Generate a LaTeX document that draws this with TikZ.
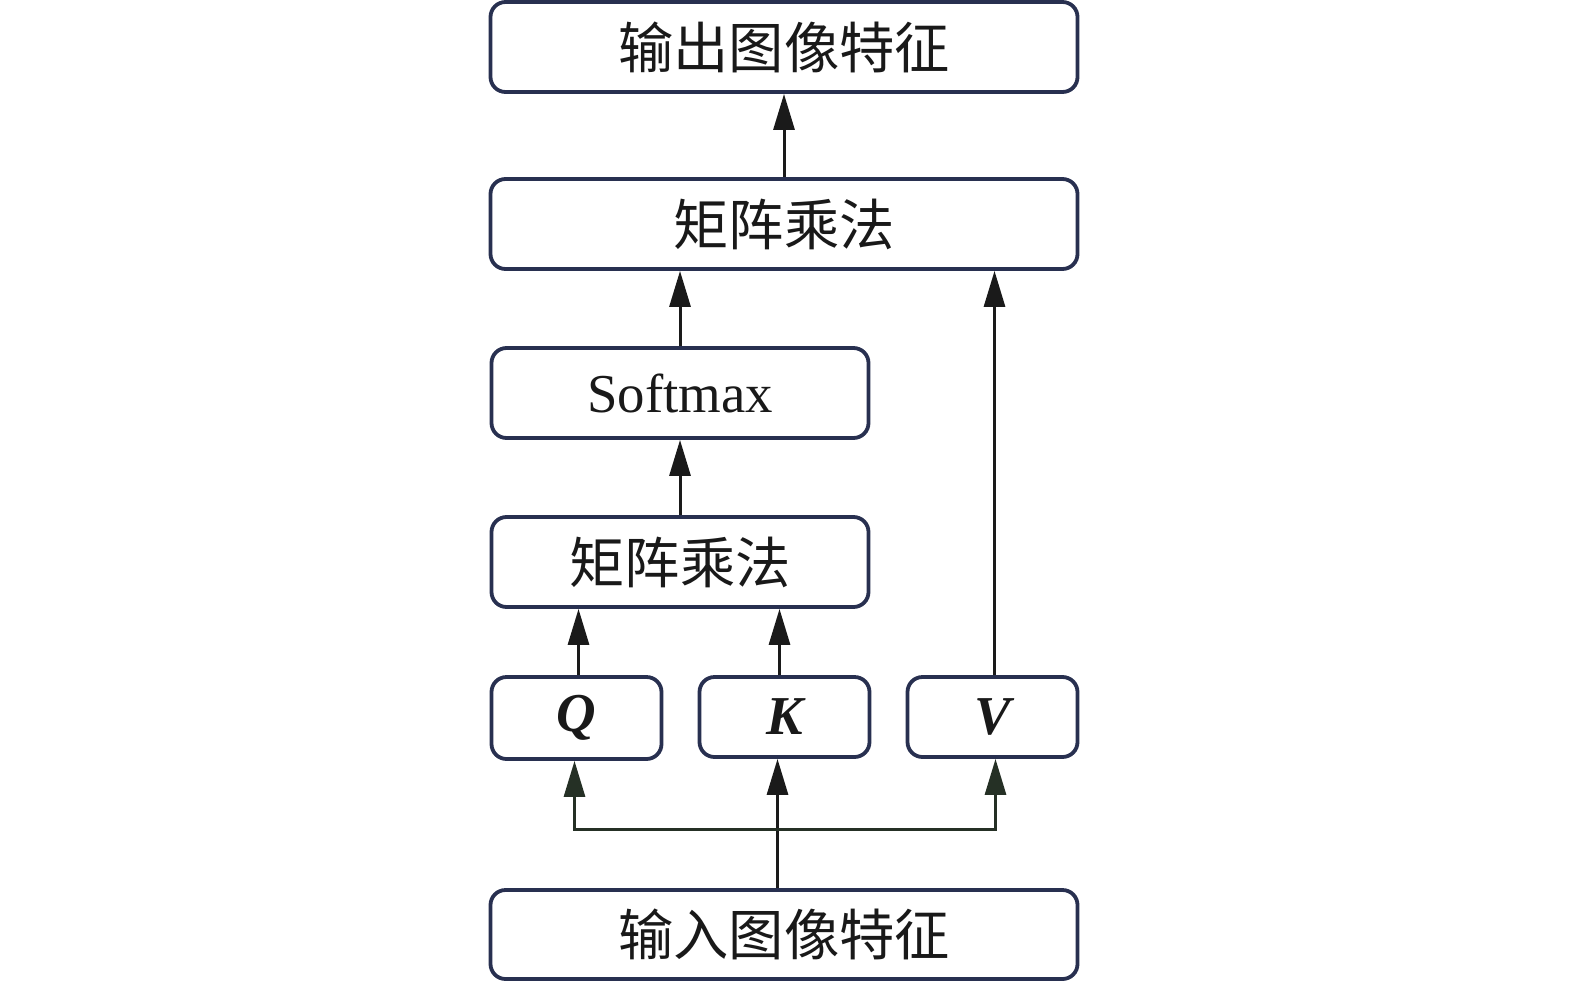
\documentclass[tikz,border=0pt]{standalone}
\usepackage{fontspec}
\setmainfont{Liberation Serif}
\newfontfamily\cjk{Noto Sans CJK SC}
\usetikzlibrary{arrows.meta,calc}
\definecolor{boxc}{HTML}{283050}
\definecolor{arrc}{HTML}{1A1A1A}
\definecolor{brc}{HTML}{253025}
\begin{document}
\begin{tikzpicture}[x=1bp,y=-1bp,
  blk/.style={draw=boxc,line width=3.8bp,rounded corners=15bp,inner sep=0pt,fill=white},
  arr/.style={draw=arrc,line width=3bp,-{Triangle[length=36bp,width=21bp]}},
  brarr/.style={draw=brc,line width=3bp,-{Triangle[length=36bp,width=21bp]}},
  cjt/.style={font=\cjk\fontsize{55.5}{60}\selectfont,text=black!90},
  lat/.style={font=\fontsize{55}{60}\selectfont,text=black!90},
  qkv/.style={font=\bfseries\itshape\fontsize{55}{60}\selectfont,text=black!90}]
\useasboundingbox (0,0) rectangle (1575,986);
\node[blk,minimum width=587bp,minimum height=90bp] (out) at (784,47) {};
\node[cjt] at (out.center) {输出图像特征};
\node[blk,minimum width=587bp,minimum height=90bp] (mm2) at (784,224) {};
\node[cjt] at (mm2.center) {矩阵乘法};
\node[blk,minimum width=377bp,minimum height=90bp] (soft) at (680,393) {};
\node[lat] at (soft.center) {Softmax};
\node[blk,minimum width=170bp,minimum height=82bp] (Q) at (576.5,718) {};
\node[qkv] at (Q.center) {Q};
\node[blk,minimum width=377bp,minimum height=90bp] (mm1) at (680,562) {};
\node[cjt] at (mm1.center) {矩阵乘法};
\node[blk,minimum width=170bp,minimum height=80bp] (K) at (784.5,717) {};
\node[qkv] at (K.center) {K};
\node[blk,minimum width=170bp,minimum height=80bp] (V) at (992.5,717) {};
\node[qkv] at (V.center) {V};
\node[blk,minimum width=587bp,minimum height=89bp] (in) at (784,934.5) {};
\node[cjt] at (in.center) {输入图像特征};
% arrows
\draw[arr] (mm2.north) -- (out.south);
\draw[arr] (soft.north) -- (soft.north |- mm2.south);
\draw[arr] (mm1.north) -- (soft.south);
\draw[arr] ([xshift=2bp]V.north) -- ([xshift=2bp]V.north |- mm2.south);
\draw[arr] ([xshift=2bp]Q.north) -- ([xshift=2bp]Q.north |- mm1.south);
\draw[arr] ([xshift=-5bp]K.north) -- ([xshift=-5bp]K.north |- mm1.south);
\coordinate (br) at (777.5,829);
\draw[arr] (in.north -| br) -- (K.south -| br);
\draw[brarr] (br) -- ([xshift=-2bp]Q.south |- br) -- ([xshift=-2bp]Q.south);
\draw[brarr] (br) -- ([xshift=3bp]V.south |- br) -- ([xshift=3bp]V.south);
\end{tikzpicture}
\end{document}
